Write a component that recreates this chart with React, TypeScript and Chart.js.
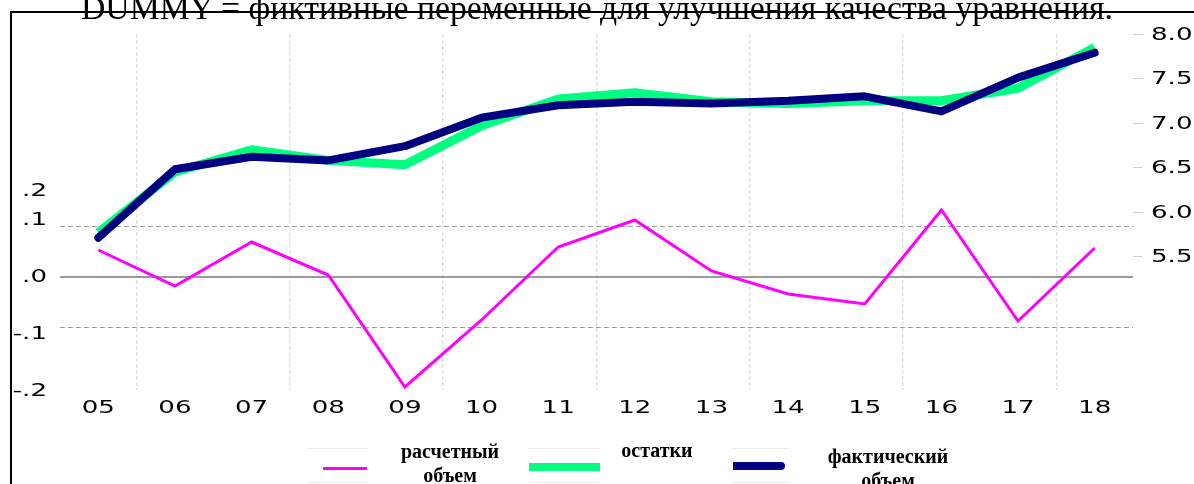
import React, { useEffect, useRef } from 'react';
import { Chart, registerables } from 'chart.js';

Chart.register(...registerables);

// ---- data ----
const years = ['05', '06', '07', '08', '09', '10', '11', '12', '13', '14', '15', '16', '17', '18'];
const raschetnyObem = [0.054, -0.018, 0.07, 0.004, -0.22, -0.086, 0.06, 0.114, 0.012, -0.034, -0.054, 0.134, -0.088, 0.058];
const ostatki = [5.77, 6.45, 6.70, 6.58, 6.53, 6.97, 7.27, 7.34, 7.24, 7.22, 7.25, 7.25, 7.39, 7.85];
const faktObem = [5.71, 6.48, 6.62, 6.58, 6.74, 7.06, 7.20, 7.24, 7.22, 7.25, 7.30, 7.13, 7.51, 7.79];

const leftGridValues = [-0.1, 0, 0.1];
const leftTickValues = [-0.2, -0.1, 0, 0.1, 0.15];
const leftTickLabels = ['-.2', '-.1', '.0', '.1', '.2'];
const rightLabelFrom = 5.5;

const titleText = 'DUMMY = фиктивные переменные для улучшения качества уравнения.';
const legendLabels = [['расчетный', 'объем'], ['остатки'], ['фактический', 'объем']];
const legendColors = ['#ff00ff', '#00ff80', '#000080'];

const tickFont = { family: 'DejaVu Sans', size: 18 };
const TEXT_STRETCH = 1.45; // tick labels in the reference are horizontally wide

function stretchCanvasText(canvas: HTMLCanvasElement) {
  const ctx: any = canvas.getContext('2d');
  if (!ctx || ctx.__origFillText) return;
  const orig = ctx.fillText;
  ctx.__origFillText = orig;
  ctx.fillText = function (text: string, x: number, y: number, maxWidth?: number) {
    this.save();
    this.translate(x, y);
    this.scale(TEXT_STRETCH, 1);
    if (maxWidth === undefined) orig.call(this, text, 0, 0);
    else orig.call(this, text, 0, 0, maxWidth / TEXT_STRETCH);
    this.restore();
  };
}

export default function App() {
  const canvasRef = useRef<HTMLCanvasElement | null>(null);

  useEffect(() => {
    if (!canvasRef.current) return;
    stretchCanvasText(canvasRef.current);
    const chart = new Chart(canvasRef.current, {
      type: 'line',
      data: {
        labels: years,
        datasets: [
          {
            label: legendLabels[2].join(' '),
            data: faktObem,
            yAxisID: 'y2',
            borderColor: legendColors[2],
            borderWidth: 8,
            borderCapStyle: 'round',
            borderJoinStyle: 'round',
            pointRadius: 0,
            order: 0,
          },
          {
            label: legendLabels[1].join(' '),
            data: ostatki,
            yAxisID: 'y2',
            borderColor: legendColors[1],
            borderWidth: 9,
            borderJoinStyle: 'round',
            pointRadius: 0,
            order: 1,
          },
          {
            label: legendLabels[0].join(' '),
            data: raschetnyObem,
            yAxisID: 'y',
            borderColor: legendColors[0],
            borderWidth: 3,
            pointRadius: 0,
            order: 2,
          },
        ],
      },
      options: {
        animation: false,
        responsive: false,
        layout: { padding: { top: 34, left: 0, right: 0, bottom: 0 } },
        plugins: {
          legend: { display: false },
          title: { display: false },
          tooltip: { enabled: false },
        },
        scales: {
          x: {
            type: 'category',
            offset: true,
            grid: {
              offset: true,
              drawTicks: false,
              lineWidth: 1.5,
              color: (c: any) => (c.index % 2 === 1 ? '#e4e4e4' : 'rgba(0,0,0,0)'),
            },
            border: { display: false, dash: [4, 2] },
            ticks: { color: '#000', font: tickFont, padding: 8, maxRotation: 0, autoSkip: false },
            afterFit: (s: any) => { s.height = 94; },
          },
          yl: {
            type: 'linear',
            position: 'left',
            min: -0.2018,
            max: 0.4228,
            grid: { display: false, drawTicks: false },
            border: { display: false },
            afterBuildTicks: (s: any) => { s.ticks = leftTickValues.map((v) => ({ value: v })); },
            ticks: {
              color: '#000',
              font: tickFont,
              padding: 13,
              labelOffset: 2,
              callback: (_v: any, i: number) => leftTickLabels[i],
            },
            afterFit: (s: any) => { s.width = 60; },
          },
          y: {
            type: 'linear',
            position: 'left',
            min: -0.226,
            max: 0.486,
            afterBuildTicks: (s: any) => { s.ticks = leftGridValues.map((v) => ({ value: v })); },
            ticks: { display: false },
            grid: {
              drawTicks: false,
              color: '#9a9a9a',
              lineWidth: (c: any) => (c.tick && c.tick.value === 0 ? 2 : 1),
            },
            border: {
              display: false,
              dash: (c: any) => (c.tick && c.tick.value === 0 ? [] : [5, 3]),
            },
            afterFit: (s: any) => { s.width = 0; },
          },
          y2: {
            type: 'linear',
            position: 'right',
            min: 4,
            max: 8,
            ticks: {
              stepSize: 0.5,
              color: '#000',
              font: tickFont,
              padding: 8,
              labelOffset: 1,
              callback: (v: any) => (v >= rightLabelFrom ? Number(v).toFixed(1) : null),
            },
            grid: { drawOnChartArea: false, tickLength: 10, tickColor: '#cfcfcf', color: '#cfcfcf' },
            border: { display: false },
            afterFit: (s: any) => { s.width = 61; },
          },
        },
      } as any,
    });
    return () => chart.destroy();
  }, []);

  const legendText = {
    position: 'absolute' as const,
    width: 200,
    textAlign: 'center' as const,
    font: 'bold 20px "Liberation Serif"',
    lineHeight: '24px',
    color: '#000',
    whiteSpace: 'nowrap' as const,
  };
  const box = (left: number, width: number) => ({
    position: 'absolute' as const,
    left,
    width,
    top: 448,
    height: 35,
    borderTop: '1px solid #ececec',
    borderBottom: '1px solid #ececec',
    boxSizing: 'border-box' as const,
  });

  return (
    <div style={{ position: 'fixed', left: 0, top: 0, width: 1194, height: 484, overflow: 'hidden', background: '#fff' }}>
      <div style={{ position: 'absolute', left: 10, top: 11, width: 1400, height: 700, borderLeft: '2px solid #000', borderTop: '2px solid #000' }} />
      <canvas ref={canvasRef} width={1194} height={484} style={{ position: 'absolute', left: 0, top: 0, display: 'block' }} />
      <div style={{ position: 'absolute', left: 0, top: -9, width: 1194, textAlign: 'center', font: '33.7px "Liberation Serif"', lineHeight: '34px', color: '#000', whiteSpace: 'nowrap' }}>
        {titleText}
      </div>
      {/* legend */}
      <div style={box(307, 60)} />
      <div style={{ position: 'absolute', left: 323, width: 44, top: 467, height: 3, background: legendColors[0] }} />
      <div style={{ ...legendText, left: 350, top: 439 }}>{legendLabels[0][0]}<br />{legendLabels[0][1]}</div>
      <div style={box(529, 71)} />
      <div style={{ position: 'absolute', left: 529, width: 71, top: 463, height: 8, background: legendColors[1] }} />
      <div style={{ ...legendText, left: 557, top: 438 }}>{legendLabels[1][0]}</div>
      <div style={box(731, 59)} />
      <div style={{ position: 'absolute', left: 733, width: 52, top: 462, height: 8, background: legendColors[2], borderRadius: '0 4px 4px 0' }} />
      <div style={{ ...legendText, left: 788, top: 444 }}>{legendLabels[2][0]}<br />{legendLabels[2][1]}</div>
    </div>
  );
}
